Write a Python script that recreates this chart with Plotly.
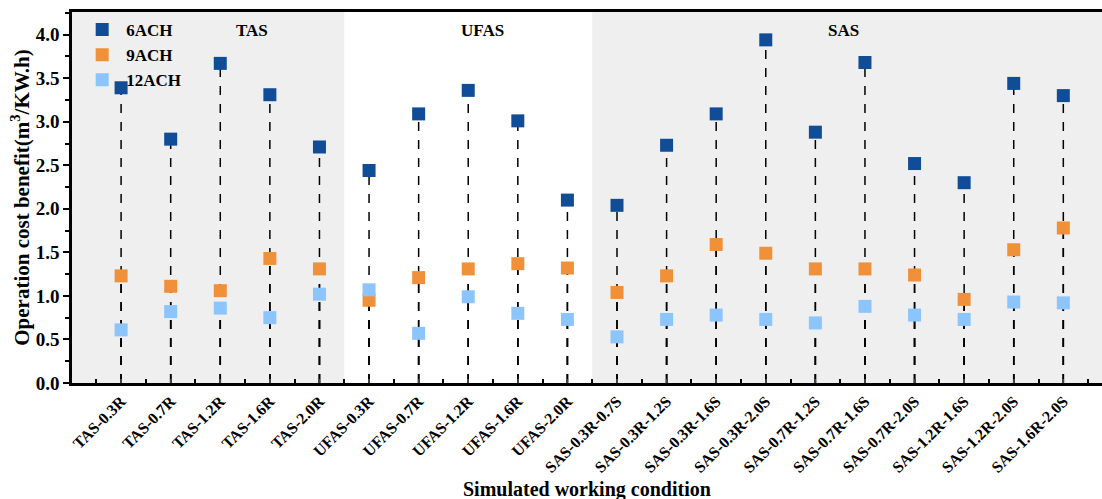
import plotly.graph_objects as go

categories = ["TAS-0.3R", "TAS-0.7R", "TAS-1.2R", "TAS-1.6R", "TAS-2.0R",
              "UFAS-0.3R", "UFAS-0.7R", "UFAS-1.2R", "UFAS-1.6R", "UFAS-2.0R",
              "SAS-0.3R-0.7S", "SAS-0.3R-1.2S", "SAS-0.3R-1.6S", "SAS-0.3R-2.0S",
              "SAS-0.7R-1.2S", "SAS-0.7R-1.6S", "SAS-0.7R-2.0S", "SAS-1.2R-1.6S",
              "SAS-1.2R-2.0S", "SAS-1.6R-2.0S"]
ach6 = [3.39, 2.80, 3.67, 3.31, 2.71, 2.44, 3.09, 3.36, 3.01, 2.10,
        2.04, 2.73, 3.09, 3.94, 2.88, 3.68, 2.52, 2.30, 3.44, 3.30]
ach9 = [1.23, 1.11, 1.06, 1.43, 1.31, 0.95, 1.21, 1.31, 1.37, 1.32,
        1.04, 1.23, 1.59, 1.49, 1.31, 1.31, 1.24, 0.96, 1.53, 1.78]
ach12 = [0.61, 0.82, 0.86, 0.75, 1.02, 1.07, 0.57, 0.99, 0.80, 0.73,
         0.53, 0.73, 0.78, 0.73, 0.69, 0.88, 0.78, 0.73, 0.93, 0.92]
series_names = ["6ACH", "9ACH", "12ACH"]
colors = ["#114C97", "#F0913A", "#8CC5FB"]
groups = ["TAS", "UFAS", "SAS"]
group_centers = [2.64, 7.28, 14.56]
ytick_vals = [0, 0.5, 1.0, 1.5, 2.0, 2.5, 3.0, 3.5, 4.0]

FONT = "Liberation Serif"
x = list(range(len(categories)))

fig = go.Figure()

# dashed drop lines from each point down to zero
for vals in [ach6, ach9, ach12]:
    lx, ly = [], []
    for i, v in enumerate(vals):
        lx += [i, i, None]
        ly += [0, v, None]
    fig.add_trace(go.Scatter(x=lx, y=ly, mode="lines", showlegend=False,
                             hoverinfo="skip",
                             line=dict(color="black", width=1.5, dash="dash")))

for name, vals, c in zip(series_names, [ach6, ach9, ach12], colors):
    fig.add_trace(go.Scatter(x=x, y=vals, mode="markers", name="<b>%s</b>" % name,
                             marker=dict(symbol="square", size=13, color=c,
                                         line=dict(width=0))))

# background bands
fig.add_shape(type="rect", xref="x", yref="paper", x0=-0.99, x1=4.5, y0=0, y1=1,
              fillcolor="#EFEFEF", line=dict(width=0), layer="below")
fig.add_shape(type="rect", xref="x", yref="paper", x0=9.5, x1=19.78, y0=0, y1=1,
              fillcolor="#EFEFEF", line=dict(width=0), layer="below")

for g, gx in zip(groups, group_centers):
    fig.add_annotation(x=gx, y=4.05, xref="x", yref="y", text="<b>%s</b>" % g,
                       showarrow=False, font=dict(family=FONT, size=17, color="black"))

fig.add_annotation(x=0.5, y=-0.288, xref="paper", yref="paper",
                   text="<b>Simulated working condition</b>", showarrow=False,
                   yanchor="middle", font=dict(family=FONT, size=20, color="black"))

fig.update_layout(
    width=1102, height=499,
    margin=dict(l=72, r=0, t=12, b=116),
    paper_bgcolor="white", plot_bgcolor="white",
    font=dict(family=FONT, color="black"),
    legend=dict(x=0.006, y=1, xanchor="left", yanchor="top",
                bgcolor="rgba(0,0,0,0)", font=dict(family=FONT, size=17),
                itemwidth=38, tracegroupgap=0),
    xaxis=dict(range=[-0.99, 19.78], tickmode="array", tickvals=x,
               ticktext=["<b>%s</b>" % c for c in categories],
               tickangle=-45, tickfont=dict(family=FONT, size=16, color="black"),
               showgrid=False, zeroline=False, showline=True, linecolor="black",
               linewidth=2.5, mirror=True, ticks="inside", ticklen=4, tickwidth=2,
               minor=dict(tickvals=[i + 0.5 for i in range(-1, 20)], ticks="inside",
                          ticklen=4, tickwidth=2, tickcolor="black")),
    yaxis=dict(range=[0, 4.26], tickvals=ytick_vals,
               ticktext=["<b>%.1f</b>" % v for v in ytick_vals],
               tickfont=dict(family=FONT, size=19, color="black"),
               showgrid=False, zeroline=False, showline=True, linecolor="black",
               linewidth=2.5, ticks="outside", ticklen=6, tickwidth=2, tickcolor="black",
               minor=dict(dtick=0.25, ticks="outside", ticklen=4, tickwidth=2,
                          tickcolor="black"),
               title=dict(text="<b>Operation cost benefit(m<sup>3</sup>/KW.h)</b>",
                          font=dict(family=FONT, size=21, color="black"), standoff=1)),
)

fig.write_html("out.html")
